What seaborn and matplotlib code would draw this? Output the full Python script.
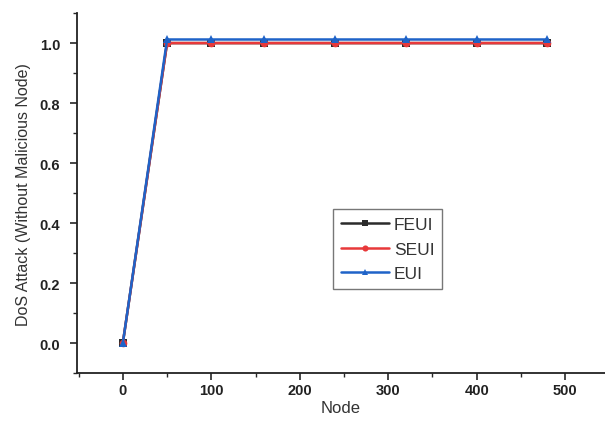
import numpy as np
import pandas as pd
import matplotlib
matplotlib.use("Agg")
import matplotlib.pyplot as plt
import seaborn as sns
from matplotlib.ticker import MultipleLocator

nodes = [0, 50, 100, 160, 240, 320, 400, 480]
feui = [0.0, 1.0, 1.0, 1.0, 1.0, 1.0, 1.0, 1.0]
seui = [0.0, 1.0, 1.0, 1.0, 1.0, 1.0, 1.0, 1.0]
eui = [0.0, 1.012, 1.012, 1.012, 1.012, 1.012, 1.012, 1.012]
series = ["FEUI", "SEUI", "EUI"]

df = pd.concat([
    pd.DataFrame({"Node": nodes, "value": v, "method": name})
    for name, v in zip(series, [feui, seui, eui])
])

sns.set_style("ticks")
plt.rcParams['font.family'] = ['Liberation Sans', 'DejaVu Sans']

fig = plt.figure(figsize=(6.05, 4.27), dpi=100)
ax = fig.add_axes([0.127, 0.124, 0.873, 0.843])

palette = {"FEUI": "#2b2b2b", "SEUI": "#e8393a", "EUI": "#1f63c8"}
markers = {"FEUI": "s", "SEUI": "o", "EUI": "^"}
sns.lineplot(data=df, x="Node", y="value", hue="method", style="method",
             palette=palette, markers=markers, dashes=False,
             markersize=5.5, markeredgewidth=0, linewidth=1.8, ax=ax,
             legend=True)

ax.set_xlim(-52, 545)
ax.set_ylim(-0.1, 1.1)
ax.xaxis.set_major_locator(MultipleLocator(100))
ax.xaxis.set_minor_locator(MultipleLocator(50))
ax.yaxis.set_major_locator(MultipleLocator(0.2))
ax.yaxis.set_minor_locator(MultipleLocator(0.1))
ax.tick_params(which="major", direction="out", length=5, width=1.2,
               labelsize=10.5)
ax.tick_params(which="minor", direction="out", length=3, width=1.0)
ax.tick_params(axis="x", pad=2.5)
ax.tick_params(axis="y", pad=7)
for lab in ax.get_xticklabels() + ax.get_yticklabels():
    lab.set_fontweight("bold")
    lab.set_color("#222222")

sns.despine(ax=ax)
for s in ["left", "bottom"]:
    ax.spines[s].set_linewidth(1.3)
    ax.spines[s].set_color("#222222")

ax.set_xlabel("Node", fontsize=12, color="#333333", labelpad=1.5)
ax.set_ylabel("DoS Attack (Without Malicious Node)", fontsize=11.5,
              color="#333333", labelpad=6)

leg = ax.legend(title=None, loc="lower left", bbox_to_anchor=(0.485, 0.233),
                borderaxespad=0, fontsize=12.5, fancybox=False, framealpha=1,
                edgecolor="#777777", handlelength=2.8, borderpad=0.45,
                labelspacing=0.55, handletextpad=0.25, markerscale=0.8)
for t in leg.get_texts():
    t.set_color("#333333")

fig.savefig("out.png", dpi=100)
